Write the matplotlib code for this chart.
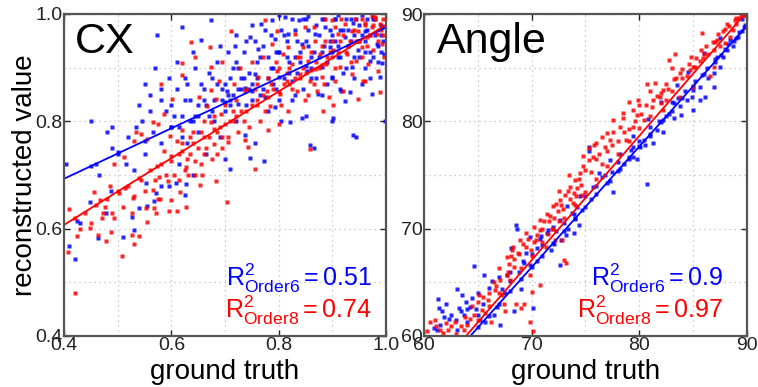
import numpy as np
import matplotlib
matplotlib.use('Agg')
import matplotlib.pyplot as plt
from matplotlib.ticker import MultipleLocator

plt.rcParams['font.family'] = ['Liberation Sans', 'DejaVu Sans']
plt.rcParams['mathtext.fontset'] = 'custom'
plt.rcParams['mathtext.rm'] = 'Liberation Sans'
plt.rcParams['mathtext.it'] = 'Liberation Sans'

# ---- CX panel (ground truth, reconstructed) ----
cx_blue = [
    (0.403, 0.72), (0.409, 0.567), (0.42, 0.543), (0.425, 0.614), (0.43, 0.61), (0.448, 0.65),
    (0.45, 0.80), (0.46, 0.72), (0.464, 0.582), (0.465, 0.70), (0.478, 0.629), (0.48, 0.78),
    (0.487, 0.67), (0.49, 0.75), (0.49, 0.79), (0.50, 0.74), (0.51, 0.585), (0.515, 0.72),
    (0.52, 0.77), (0.526, 0.622), (0.53, 0.598), (0.53, 0.71), (0.535, 0.79), (0.54, 0.638),
    (0.54, 0.83), (0.545, 0.80), (0.55, 0.87), (0.55, 0.74), (0.552, 0.686), (0.555, 0.643),
    (0.56, 0.85), (0.565, 0.78), (0.568, 0.652), (0.571, 0.666), (0.57, 0.90), (0.574, 0.96),
    (0.58, 0.68), (0.58, 0.84), (0.58, 0.76), (0.59, 0.82), (0.595, 0.88), (0.596, 0.68),
    (0.60, 0.79), (0.608, 0.686), (0.61, 0.86), (0.615, 0.72), (0.62, 0.975), (0.62, 0.81),
    (0.625, 0.662), (0.627, 0.683), (0.625, 0.88), (0.63, 0.76), (0.635, 0.84), (0.64, 0.70),
    (0.645, 0.90), (0.65, 0.83), (0.65, 0.78), (0.655, 0.952), (0.66, 0.86), (0.665, 0.74),
    (0.673, 0.989), (0.67, 0.81), (0.675, 0.88), (0.68, 0.84), (0.685, 0.91), (0.69, 0.77),
    (0.695, 0.86), (0.70, 0.82), (0.70, 0.73), (0.703, 0.857), (0.705, 0.93), (0.709, 0.839),
    (0.709, 0.711), (0.71, 0.88), (0.715, 0.85), (0.719, 0.941), (0.72, 0.96), (0.72, 0.80),
    (0.725, 0.832), (0.725, 0.90), (0.73, 0.86), (0.735, 0.93), (0.737, 0.863), (0.738, 0.775),
    (0.74, 0.83), (0.745, 0.89), (0.747, 0.957), (0.747, 0.732), (0.75, 0.98), (0.75, 0.87),
    (0.755, 0.76), (0.756, 0.888), (0.76, 0.91), (0.762, 0.935), (0.765, 0.85), (0.768, 0.981),
    (0.77, 0.94), (0.773, 0.727), (0.775, 0.845), (0.78, 0.88), (0.78, 0.82), (0.785, 0.96),
    (0.787, 0.988), (0.79, 0.90), (0.793, 0.953), (0.793, 0.826), (0.795, 0.86), (0.799, 0.929),
    (0.80, 0.998), (0.80, 0.93), (0.805, 0.80), (0.81, 0.88), (0.812, 0.994), (0.815, 0.95),
    (0.818, 0.963), (0.821, 0.798), (0.82, 0.91), (0.824, 0.876), (0.825, 0.84), (0.83, 0.919),
    (0.83, 0.97), (0.835, 0.89), (0.837, 0.988), (0.84, 0.93), (0.843, 0.944), (0.843, 0.807),
    (0.845, 0.86), (0.85, 0.99), (0.85, 0.81), (0.852, 0.894), (0.855, 0.94), (0.855, 0.997),
    (0.858, 0.755), (0.86, 0.90), (0.861, 0.919), (0.865, 0.75), (0.868, 0.963), (0.87, 0.88),
    (0.874, 0.851), (0.875, 0.92), (0.88, 0.99), (0.88, 0.85), (0.88, 0.901), (0.885, 0.94),
    (0.886, 0.975), (0.89, 0.91), (0.895, 0.97), (0.896, 0.938), (0.899, 0.882), (0.90, 0.88),
    (0.90, 0.80), (0.902, 0.806), (0.905, 0.95), (0.905, 0.991), (0.91, 0.998), (0.91, 0.92),
    (0.914, 0.919), (0.915, 0.86), (0.917, 0.857), (0.92, 0.97), (0.924, 0.957), (0.924, 0.837),
    (0.925, 0.90), (0.93, 0.94), (0.933, 0.855), (0.935, 0.99), (0.936, 0.901), (0.939, 0.775),
    (0.939, 0.984), (0.94, 0.88), (0.94, 0.96), (0.945, 0.77), (0.948, 0.932), (0.95, 0.92),
    (0.955, 0.998), (0.955, 0.87), (0.96, 0.95), (0.96, 0.90), (0.961, 0.969), (0.965, 0.97),
    (0.97, 0.913), (0.97, 0.93), (0.973, 0.851), (0.975, 0.99), (0.976, 0.994), (0.98, 0.96),
    (0.983, 0.944), (0.985, 0.91), (0.989, 0.882), (0.99, 0.98), (0.992, 0.975), (0.992, 0.908),
    (0.995, 0.95), (0.997, 0.925), (0.998, 0.80), (0.99, 0.93), (0.97, 0.88),
    (0.45, 0.717), (0.5, 0.742), (0.55, 0.763), (0.6, 0.789), (0.65, 0.81), (0.7, 0.836),
    (0.75, 0.856), (0.8, 0.883), (0.85, 0.903), (0.9, 0.93), (0.95, 0.95),
    (0.56, 0.82), (0.58, 0.86), (0.60, 0.83), (0.61, 0.91), (0.62, 0.77), (0.63, 0.87),
    (0.64, 0.80), (0.64, 0.93), (0.66, 0.84), (0.67, 0.89), (0.68, 0.80), (0.69, 0.94),
    (0.70, 0.87), (0.71, 0.83), (0.72, 0.91), (0.73, 0.88), (0.74, 0.95), (0.75, 0.84),
    (0.76, 0.88), (0.77, 0.86), (0.78, 0.92), (0.79, 0.87), (0.80, 0.84), (0.81, 0.96),
    (0.82, 0.89), (0.83, 0.85), (0.84, 0.91), (0.85, 0.95), (0.86, 0.88), (0.87, 0.98),
    (0.88, 0.93), (0.89, 0.87), (0.90, 0.96), (0.91, 0.94), (0.92, 0.89), (0.93, 0.97),
    (0.94, 0.92), (0.95, 0.98), (0.96, 0.93), (0.97, 0.96), (0.98, 0.99), (0.99, 0.96),
    (0.985, 0.94), (0.975, 0.92), (0.965, 0.99), (0.955, 0.96), (0.945, 0.99), (0.935, 0.95),
    (0.925, 0.99), (0.915, 0.97), (0.905, 0.99), (0.895, 0.95), (0.885, 0.99), (0.875, 0.96),
    (0.865, 0.93), (0.855, 0.97), (0.845, 0.99), (0.835, 0.95), (0.825, 0.99), (0.815, 0.92),
    (0.805, 0.97), (0.795, 0.93), (0.785, 0.90), (0.775, 0.97), (0.765, 0.92), (0.755, 0.95),
    (0.745, 0.86), (0.735, 0.88), (0.725, 0.86), (0.715, 0.90), (0.705, 0.85), (0.695, 0.84),
    (0.685, 0.87), (0.675, 0.82), (0.665, 0.83), (0.655, 0.87), (0.645, 0.81), (0.635, 0.80),
    (0.625, 0.84), (0.615, 0.79), (0.605, 0.81),
]
cx_red = [
    (0.407, 0.557), (0.409, 0.636), (0.42, 0.48), (0.425, 0.586), (0.448, 0.602), (0.456, 0.668),
    (0.464, 0.589), (0.468, 0.653), (0.473, 0.629), (0.476, 0.64), (0.478, 0.577), (0.485, 0.68),
    (0.487, 0.594), (0.493, 0.619), (0.493, 0.72), (0.502, 0.666), (0.509, 0.55), (0.511, 0.733),
    (0.513, 0.676), (0.526, 0.589), (0.529, 0.658), (0.53, 0.571), (0.527, 0.63), (0.53, 0.764),
    (0.535, 0.781), (0.54, 0.586), (0.543, 0.776), (0.544, 0.69), (0.552, 0.638), (0.554, 0.767),
    (0.555, 0.613), (0.565, 0.672), (0.565, 0.798), (0.568, 0.639), (0.571, 0.629), (0.574, 0.717),
    (0.575, 0.655), (0.575, 0.795), (0.577, 0.697), (0.579, 0.655), (0.58, 0.87), (0.586, 0.745),
    (0.586, 0.814), (0.594, 0.688), (0.596, 0.633), (0.597, 0.773), (0.599, 0.727), (0.60, 0.653),
    (0.602, 0.842), (0.61, 0.764), (0.611, 0.633), (0.614, 0.739), (0.616, 0.669), (0.619, 0.783),
    (0.62, 0.887), (0.62, 0.908), (0.627, 0.641), (0.627, 0.714), (0.631, 0.70), (0.635, 0.77),
    (0.636, 0.947), (0.645, 0.919), (0.645, 0.727), (0.651, 0.846), (0.653, 0.681), (0.655, 0.78),
    (0.658, 0.70), (0.661, 0.739), (0.667, 0.829), (0.672, 0.938), (0.673, 0.858), (0.673, 0.798),
    (0.673, 0.901), (0.679, 0.758), (0.683, 0.842), (0.683, 0.688), (0.686, 0.739), (0.689, 0.876),
    (0.692, 0.814), (0.695, 0.77), (0.695, 0.91), (0.703, 0.65), (0.706, 0.761), (0.712, 0.969),
    (0.716, 0.87), (0.717, 0.80), (0.728, 0.90), (0.737, 0.857), (0.737, 0.765), (0.743, 0.752),
    (0.75, 0.91), (0.755, 0.711), (0.759, 0.839), (0.762, 0.882), (0.771, 0.919), (0.775, 0.988),
    (0.778, 0.857), (0.78, 0.784), (0.784, 0.829), (0.787, 0.944), (0.796, 0.894), (0.796, 0.969),
    (0.80, 0.795), (0.802, 0.851), (0.809, 0.925), (0.815, 0.876), (0.818, 0.82), (0.818, 0.938),
    (0.824, 0.907), (0.83, 0.963), (0.834, 0.857), (0.84, 0.888), (0.846, 0.938), (0.849, 0.839),
    (0.849, 0.975), (0.855, 0.913), (0.858, 0.876), (0.858, 0.748), (0.865, 0.975), (0.868, 0.898),
    (0.868, 0.95), (0.871, 0.857), (0.877, 0.925), (0.88, 0.882), (0.883, 0.82), (0.886, 0.95),
    (0.886, 0.99), (0.889, 0.907), (0.893, 0.845), (0.899, 0.988), (0.902, 0.932), (0.902, 0.831),
    (0.905, 0.876), (0.905, 0.975), (0.911, 0.963), (0.914, 0.901), (0.917, 0.99), (0.92, 0.857),
    (0.924, 0.981), (0.927, 0.925), (0.933, 0.95), (0.936, 0.888), (0.936, 0.969), (0.942, 0.991),
    (0.945, 0.913), (0.948, 0.969), (0.948, 0.95), (0.948, 0.842), (0.955, 0.938), (0.955, 0.99),
    (0.958, 0.876), (0.961, 0.984), (0.961, 0.876), (0.964, 0.957), (0.967, 0.907), (0.973, 0.975),
    (0.973, 0.997), (0.976, 0.932), (0.979, 0.994), (0.983, 0.963), (0.986, 0.894), (0.989, 0.981),
    (0.989, 0.854), (0.992, 0.944), (0.995, 0.991), (0.997, 0.919),
    (0.42, 0.62), (0.44, 0.63), (0.46, 0.645), (0.48, 0.655), (0.50, 0.67), (0.52, 0.68),
    (0.54, 0.695), (0.56, 0.71), (0.58, 0.72), (0.60, 0.735), (0.62, 0.745), (0.64, 0.76),
    (0.66, 0.77), (0.68, 0.785), (0.70, 0.795), (0.72, 0.81), (0.74, 0.82), (0.76, 0.83),
    (0.78, 0.845), (0.80, 0.855), (0.82, 0.87), (0.84, 0.88), (0.86, 0.895), (0.88, 0.905),
    (0.90, 0.92),
    (0.62, 0.76), (0.63, 0.73), (0.64, 0.78), (0.65, 0.75), (0.66, 0.80), (0.67, 0.77),
    (0.68, 0.81), (0.69, 0.79), (0.70, 0.83), (0.71, 0.80), (0.72, 0.84), (0.73, 0.82),
    (0.74, 0.86), (0.75, 0.83), (0.76, 0.87), (0.77, 0.85), (0.78, 0.88), (0.79, 0.86),
    (0.80, 0.90), (0.81, 0.87), (0.82, 0.90), (0.83, 0.88), (0.84, 0.92), (0.85, 0.89),
    (0.86, 0.93), (0.87, 0.91), (0.88, 0.94), (0.89, 0.92), (0.90, 0.95), (0.91, 0.93),
    (0.92, 0.96), (0.93, 0.94), (0.94, 0.97), (0.95, 0.95), (0.96, 0.98), (0.97, 0.96),
    (0.98, 0.99), (0.99, 0.97), (0.995, 0.96), (0.985, 0.95), (0.975, 0.98), (0.965, 0.94),
    (0.955, 0.92), (0.945, 0.95), (0.935, 0.91), (0.925, 0.93), (0.915, 0.95), (0.905, 0.90),
    (0.895, 0.93), (0.885, 0.87), (0.875, 0.90), (0.865, 0.87), (0.855, 0.85), (0.845, 0.90),
    (0.835, 0.92), (0.825, 0.86), (0.815, 0.89), (0.805, 0.83), (0.795, 0.91), (0.785, 0.87),
    (0.775, 0.82), (0.765, 0.80), (0.755, 0.86), (0.745, 0.79), (0.735, 0.80), (0.725, 0.78),
    (0.715, 0.82), (0.705, 0.77), (0.695, 0.75), (0.685, 0.78), (0.675, 0.73), (0.665, 0.75),
    (0.655, 0.72), (0.645, 0.70), (0.635, 0.74), (0.625, 0.71), (0.615, 0.69), (0.605, 0.70),
    (0.59, 0.70), (0.57, 0.69), (0.55, 0.67), (0.53, 0.66), (0.51, 0.64), (0.49, 0.63),
    (0.47, 0.62), (0.45, 0.61), (0.43, 0.60),
]
cx_fit_blue = (0.693, 0.975)   # fitted value at x=0.4 and x=1.0
cx_fit_red = (0.607, 0.980)
cx_ticks = [0.4, 0.6, 0.8, 1.0]
cx_ticklabels = ['0.4', '0.6', '0.8', '1.0']
cx_r2 = ('0.51', '0.74')

# ---- Angle panel ----
ang_blue = [
    (60.9, 60.7), (61.2, 60.6), (61.3, 63.45), (61.4, 62.6), (61.7, 62.3), (61.9, 61.8),
    (62.3, 61.6), (63.1, 64.4), (63.1, 60.6), (63.25, 62.6), (63.4, 62.3), (63.7, 62.0),
    (63.9, 63.2), (64.0, 61.3), (64.3, 62.7), (64.6, 66.5), (64.8, 62.5), (65.0, 64.0),
    (65.0, 62.0), (65.6, 65.7), (65.7, 61.3), (66.3, 65.1), (66.8, 62.7), (67.1, 61.0),
    (67.2, 64.4), (67.7, 65.7), (68.0, 65.1), (68.1, 68.2), (68.4, 62.3), (68.5, 70.3),
    (68.6, 70.0), (69.0, 64.4), (69.3, 66.8), (69.5, 67.7), (69.8, 66.6), (69.8, 69.25),
    (70.1, 62.6), (70.5, 68.2), (70.8, 69.0), (70.9, 69.3), (71.4, 69.6), (71.5, 69.9),
    (72.0, 70.2), (72.1, 68.6), (72.6, 66.6), (72.6, 70.8), (72.7, 68.9), (73.2, 69.4),
    (73.3, 72.1), (73.4, 70.0), (73.9, 69.6), (73.9, 71.4), (74.0, 71.0), (74.4, 70.3),
    (74.5, 73.0), (74.7, 71.7), (75.3, 77.6), (75.3, 77.2), (75.7, 73.9), (76.3, 75.2),
    (76.5, 74.8), (77.3, 74.4), (77.3, 76.4), (77.6, 73.4), (78.2, 75.6), (78.2, 77.0),
    (79.0, 76.7), (79.4, 77.6), (79.4, 78.6), (79.4, 76.7), (79.75, 76.5), (80.1, 77.6),
    (80.4, 78.3), (80.7, 74.2), (81.0, 78.6), (81.3, 78.0), (81.6, 79.2), (82.2, 80.1),
    (82.2, 79.0), (82.8, 80.7), (83.2, 80.3), (83.2, 81.7), (83.8, 81.4), (83.9, 80.6),
    (84.4, 82.0), (84.9, 82.3), (85.0, 82.9), (85.0, 81.1), (85.6, 83.2), (85.6, 82.0),
    (86.1, 82.3), (86.4, 84.0), (86.9, 84.5), (86.9, 83.2), (87.2, 86.0), (87.5, 85.1),
    (87.8, 86.0), (88.1, 86.6), (88.4, 87.6), (88.7, 87.0), (89.2, 87.9), (89.5, 88.4),
    (89.7, 88.8),
    (65, 60.8), (66, 61.9), (67, 63.0), (68, 64.2), (69, 65.3), (70, 66.4), (71, 67.5),
    (72, 68.7), (73, 69.8), (74, 70.9), (75, 72.0), (76, 73.2), (77, 74.3), (78, 75.4),
    (79, 76.5), (80, 77.7), (81, 78.8), (82, 79.9), (83, 81.0), (84, 82.2), (85, 83.3),
    (86, 84.4), (87, 85.5), (88, 86.7), (89, 87.8),
    (61.5, 61.0), (62.0, 63.0), (62.5, 62.0), (63.0, 61.5), (63.5, 63.8), (64.0, 62.5),
    (64.5, 63.5), (65.2, 61.5), (65.5, 63.0), (66.0, 64.5), (66.5, 62.0), (67.0, 65.5),
    (67.5, 64.0), (68.0, 66.0), (68.8, 66.0), (69.2, 67.0), (70.0, 67.6), (70.5, 67.0),
    (71.0, 68.5), (71.8, 68.0), (72.3, 69.8), (73.0, 70.5), (73.7, 71.5), (74.2, 72.0),
    (75.0, 73.0), (75.5, 72.8), (76.0, 74.0), (76.8, 75.0), (77.5, 75.3), (78.0, 76.2),
    (78.6, 76.0), (79.2, 77.3), (80.0, 78.2), (80.5, 77.8), (81.0, 79.5), (81.8, 80.0),
    (82.5, 80.5), (83.0, 81.8), (83.6, 82.2), (84.2, 82.8), (85.2, 83.8), (85.8, 84.3),
    (86.3, 85.0), (87.0, 85.8), (87.6, 86.2), (88.2, 87.2), (88.8, 87.5), (89.3, 88.3),
    (89.8, 89.0), (89.5, 89.5), (87.5, 87.8), (86.0, 86.4), (84.5, 84.6), (83.5, 83.4),
    (82.0, 81.8), (80.8, 80.2),
]
ang_red = [
    (60.6, 61.3), (61.1, 60.9), (61.5, 60.6), (62.0, 61.2), (62.5, 60.9), (62.9, 61.3),
    (63.4, 60.9), (63.7, 60.6), (64.0, 61.0), (64.3, 61.6), (64.6, 62.0), (65.0, 63.2),
    (65.1, 63.8), (65.4, 62.4), (65.7, 62.1), (65.9, 63.4), (66.2, 61.3), (66.6, 64.3),
    (66.7, 64.7), (67.1, 65.2), (67.2, 63.8), (67.4, 63.0), (67.5, 62.3), (67.7, 65.7),
    (67.7, 67.4), (67.9, 66.7), (68.1, 67.5), (68.3, 68.3), (68.4, 66.4), (68.4, 67.2),
    (68.5, 63.0), (68.7, 67.7), (68.9, 68.9), (69.0, 62.6), (69.3, 63.0), (69.5, 68.3),
    (69.5, 69.6), (69.8, 65.7), (69.8, 61.3), (69.9, 68.0), (70.0, 64.1), (70.1, 60.5),
    (70.2, 68.8), (70.2, 70.2), (70.5, 69.4), (70.8, 64.75), (70.8, 69.9), (70.8, 70.8),
    (71.1, 70.7), (71.3, 68.3), (71.4, 71.4), (71.5, 69.5), (71.6, 70.7), (71.9, 70.0),
    (72.0, 72.1), (72.1, 71.0), (72.2, 68.9), (72.4, 71.6), (72.5, 70.7), (72.6, 72.7),
    (72.7, 72.2), (72.8, 68.9), (73.0, 67.1), (73.1, 73.1), (73.2, 66.8), (73.6, 72.8),
    (73.6, 73.9), (73.8, 72.4), (73.9, 73.3), (74.0, 74.5), (74.2, 73.8), (74.5, 75.2),
    (74.6, 74.1), (74.7, 73.1), (74.8, 75.8), (75.3, 76.4), (75.3, 77.5), (75.7, 76.7),
    (76.0, 78.0), (76.3, 77.0), (76.8, 77.6), (77.0, 78.9), (77.3, 78.3), (77.6, 79.0),
    (77.6, 80.1), (78.2, 79.5), (78.5, 80.3), (78.8, 78.3), (79.0, 81.8), (79.4, 81.1),
    (79.4, 79.5), (79.8, 80.6), (79.9, 82.0), (80.4, 80.1), (80.7, 83.5), (81.0, 82.8),
    (81.3, 82.0), (81.9, 82.3), (82.2, 82.9), (82.2, 81.1), (82.5, 83.5), (82.5, 82.0),
    (82.8, 85.7), (83.2, 83.9), (83.3, 86.3), (83.8, 84.5), (83.8, 82.3), (84.4, 84.2),
    (84.7, 84.8), (85.0, 83.2), (85.2, 85.1), (85.6, 85.6), (85.8, 88.2), (85.9, 85.9),
    (86.4, 86.3), (86.6, 84.2), (86.9, 86.6), (86.9, 85.1), (87.2, 87.6), (87.5, 87.0),
    (88.0, 87.3), (88.1, 89.1), (88.4, 87.9), (88.7, 88.5), (89.0, 89.1), (89.3, 89.6),
    (89.7, 89.9),
    (65, 61.5), (66, 62.8), (67, 64.0), (68, 65.2), (69, 66.3), (70, 67.5), (71, 68.8),
    (72, 70.0), (73, 71.0), (74, 72.2), (75, 73.4), (76, 74.6), (77, 75.8), (78, 77.0),
    (79, 78.2), (80, 79.4), (81, 80.5), (82, 81.7), (83, 82.8), (84, 84.0), (85, 85.1),
    (86, 86.3), (87, 87.4), (88, 88.6), (89, 89.6),
    (60.3, 60.5), (61.0, 61.5), (61.8, 60.3), (62.2, 60.6), (63.0, 60.2), (63.8, 61.8),
    (64.5, 62.8), (65.5, 63.6), (66.0, 64.0), (66.5, 65.0), (67.0, 66.3), (67.8, 66.0),
    (68.2, 68.0), (68.8, 67.6), (69.2, 68.6), (69.7, 69.0), (70.4, 68.9), (71.0, 70.0),
    (71.7, 71.2), (72.3, 72.3), (72.9, 71.8), (73.4, 73.5), (74.1, 73.0), (74.4, 74.6),
    (75.0, 75.5), (75.5, 75.3), (76.0, 76.5), (76.5, 76.0), (77.0, 77.2), (77.5, 77.8),
    (78.0, 78.2), (78.6, 79.0), (79.0, 79.3), (79.6, 80.0), (80.2, 80.7), (80.6, 81.5),
    (81.2, 81.3), (81.6, 82.4), (82.0, 82.6), (82.7, 83.0), (83.4, 84.0), (84.0, 84.9),
    (84.6, 85.3), (85.3, 85.9), (85.7, 86.6), (86.2, 87.0), (86.8, 87.4), (87.3, 88.1),
    (87.8, 88.4), (88.3, 88.9), (88.9, 89.4), (89.4, 89.9), (89.9, 89.8), (84.8, 86.0),
    (83.0, 85.0), (81.5, 83.6), (80.0, 81.5), (78.5, 80.8), (76.5, 78.5), (75.8, 77.8),
    (74.8, 76.8), (73.5, 75.0), (72.5, 73.5),
]
ang_fit_blue = ((64.3, 60.0), (90.0, 88.9))
ang_fit_red = ((63.9, 60.0), (89.8, 90.0))
ang_ticks = [60, 70, 80, 90]
ang_r2 = ('0.9', '0.97')

BLUE = '#0000ff'
RED = '#ff0000'

fig = plt.figure(figsize=(7.58, 3.87), dpi=100)
ax1 = fig.add_axes([64 / 758, 51 / 387, 322 / 758, 322 / 387])
ax2 = fig.add_axes([424 / 758, 51 / 387, 323 / 758, 322 / 387])


def style(ax, lim, ticks, minor):
    ax.set_xlim(lim)
    ax.set_ylim(lim)
    ax.set_xticks(ticks)
    ax.set_yticks(ticks)
    ax.xaxis.set_minor_locator(MultipleLocator(minor))
    ax.yaxis.set_minor_locator(MultipleLocator(minor))
    ax.grid(True, which='both', color='#bcbcbc', linestyle=(0, (1, 3)), linewidth=0.9)
    ax.tick_params(which='major', direction='in', length=4, width=1, labelsize=14,
                   pad=1, colors='#222222', top=True, right=True)
    ax.tick_params(which='minor', length=0)
    for s in ax.spines.values():
        s.set_color('#555555')
        s.set_linewidth(1.6)
    ax.set_xlabel('ground truth', fontsize=20, labelpad=3)
    ax.set_axisbelow(True)


def scatter(ax, pts, color):
    a = np.array(pts)
    ax.plot(a[:, 0], a[:, 1], 's', ms=2.4, color=color, mec='none', alpha=0.85)


# CX
scatter(ax1, cx_blue, BLUE)
scatter(ax1, cx_red, RED)
ax1.plot([0.4, 1.0], cx_fit_blue, color=BLUE, lw=1.3)
ax1.plot([0.4, 1.0], cx_fit_red, color=RED, lw=1.3)
style(ax1, (0.4, 1.0), cx_ticks, 0.1)
ax1.set_xticklabels(cx_ticklabels)
ax1.set_yticklabels(cx_ticklabels)
ax1.set_ylabel('reconstructed value', fontsize=20, labelpad=-2)
ax1.text(0.035, 0.975, 'CX', transform=ax1.transAxes, fontsize=31, va='top', ha='left')
ax1.text(0.955, 0.155, r'$\mathrm{R^2_{Order6}=' + cx_r2[0] + '}$', color=BLUE,
         transform=ax1.transAxes, fontsize=18, ha='right', va='baseline')
ax1.text(0.955, 0.055, r'$\mathrm{R^2_{Order8}=' + cx_r2[1] + '}$', color=RED,
         transform=ax1.transAxes, fontsize=18, ha='right', va='baseline')

# Angle
scatter(ax2, ang_blue, BLUE)
scatter(ax2, ang_red, RED)
ax2.plot(*zip(*ang_fit_blue), color=BLUE, lw=1.3)
ax2.plot(*zip(*ang_fit_red), color=RED, lw=1.3)
style(ax2, (60, 90), ang_ticks, 5)
ax2.text(0.04, 0.975, 'Angle', transform=ax2.transAxes, fontsize=31, va='top', ha='left')
ax2.text(0.925, 0.155, r'$\mathrm{R^2_{Order6}=' + ang_r2[0] + '}$', color=BLUE,
         transform=ax2.transAxes, fontsize=18, ha='right', va='baseline')
ax2.text(0.925, 0.055, r'$\mathrm{R^2_{Order8}=' + ang_r2[1] + '}$', color=RED,
         transform=ax2.transAxes, fontsize=18, ha='right', va='baseline')

fig.savefig('out.png', dpi=100)
